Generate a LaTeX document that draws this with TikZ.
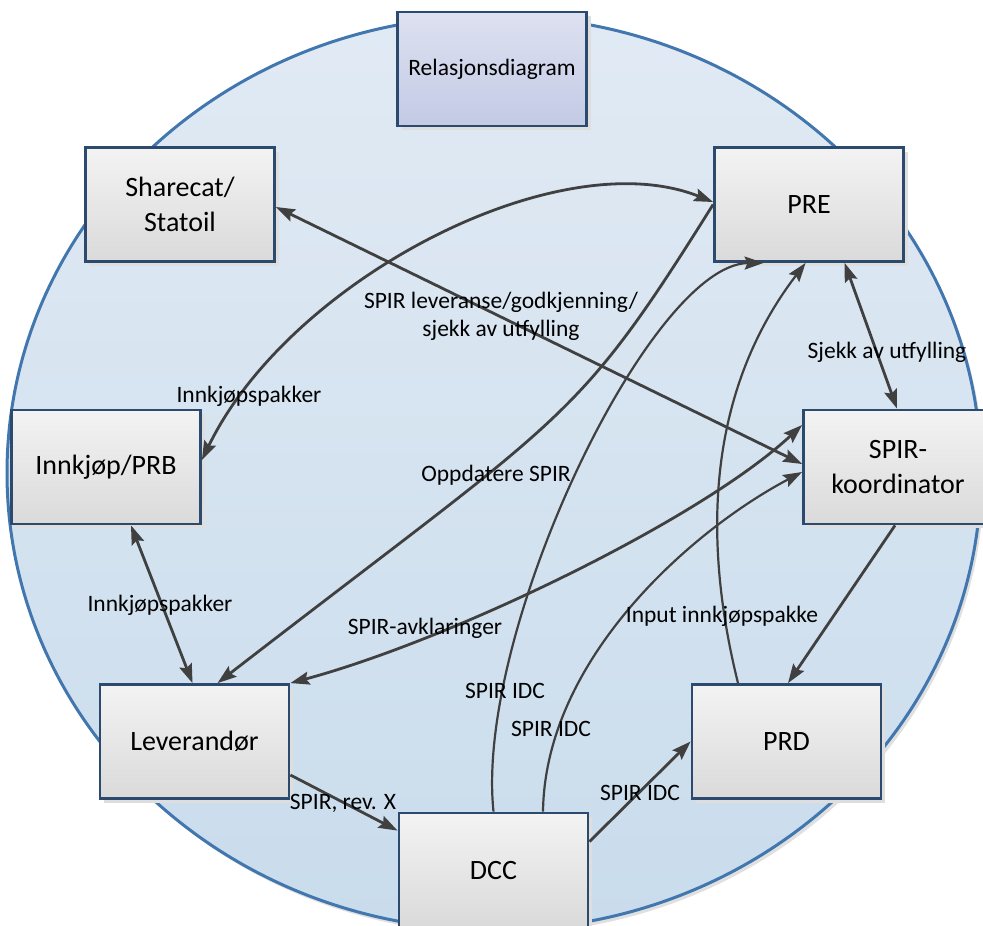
\documentclass[tikz,border=0pt]{standalone}
\usepackage{fontspec}
\setmainfont{Carlito}
\usetikzlibrary{arrows.meta,shadows}

\definecolor{edgeink}{HTML}{404040}
\definecolor{boxline}{HTML}{2C4A6E}
\definecolor{ringline}{HTML}{4177AE}
\definecolor{ringtop}{HTML}{E1EAF4}
\definecolor{ringbot}{HTML}{C9DCEC}
\definecolor{boxtop}{HTML}{F3F3F3}
\definecolor{boxbot}{HTML}{DADADA}
\definecolor{titletop}{HTML}{DDE1F0}
\definecolor{titlebot}{HTML}{C3CAE5}

\newcommand\bxfont{\fontsize{28bp}{34.5bp}\selectfont}
\newcommand\lblfont{\fontsize{23.5bp}{28bp}\selectfont}

\begin{document}
\begin{tikzpicture}[x=1bp,y=-1bp,
  box/.style={draw=boxline, line width=2.8bp, top color=boxtop, bottom color=boxbot,
    minimum width=189bp, minimum height=114bp, inner sep=0pt, align=center, font=\bxfont,
    general shadow={fill=black!13, shadow xshift=4bp, shadow yshift=-4bp}},
  titlebox/.style={box, top color=titletop, bottom color=titlebot, font=\lblfont},
  lbl/.style={font=\lblfont, inner sep=0pt, align=center},
  conn/.style={draw=edgeink, line width=2.8bp},
  thin/.style={draw=edgeink, line width=2.2bp},
  >={Stealth[length=19bp,width=13bp,inset=3bp]}]

\useasboundingbox (0,0) rectangle (983,926);

% the ring behind everything
\fill[black!12] (497,477) ellipse [x radius=487, y radius=457];
\shade[top color=ringtop, bottom color=ringbot, draw=ringline, line width=3bp]
  (494,473) ellipse [x radius=487, y radius=457];

% boxes
\node[titlebox] (rel)   at (492,69)      {Relasjonsdiagram};
\node[box]      (share) at (180,204.5)   {Sharecat/\\Statoil};
\node[box]      (pre)   at (809,204.5)   {PRE};
\node[box]      (inn)   at (106,467)     {Innkjøp/PRB};
\node[box]      (spir)  at (898,467)     {SPIR-\\koordinator};
\node[box]      (lev)   at (194.5,741.5) {Leverandør};
\node[box]      (prd)   at (786.5,741.5) {PRD};
\node[box]      (dcc)   at (493.5,870)   {DCC};

% connectors
\draw[conn,<->] ([yshift=7bp]inn.east) .. controls +(87,-180) and +(-155,-62) .. ([yshift=2.5bp]pre.west);
\draw[conn,->] (pre.west) .. controls +(-139,222) and +(353,-273) .. ([xshift=23bp]lev.north);
\draw[conn,<->] ([yshift=-2.5bp]share.east) -- ([yshift=3bp]spir.west);
\draw[conn,<->] (lev.north east) .. controls +(160,-43) and +(-102,95) .. ([yshift=42bp]spir.west);
\draw[thin,->] (dcc.north) .. controls +(-19,-181) and +(-113,1) .. ([xshift=50.5bp]pre.south west);
\draw[thin,->] ([xshift=49.5bp]dcc.north) .. controls +(2,-153) and +(-110,58) .. ([yshift=-5bp]spir.west);
\draw[thin,->] ([xshift=-48.5bp]prd.north) .. controls +(-40,-161) and +(-91,119) .. ([xshift=92.5bp]pre.south west);
\draw[conn,<->] ([xshift=131.5bp]pre.south west) -- ([xshift=-1bp]spir.north);
\draw[conn,->] ([xshift=-3bp]spir.south) -- ([xshift=1.5bp]prd.north);
\draw[conn,<->] ([xshift=25bp]inn.south) -- ([xshift=-2bp]lev.north);
\draw[conn,->] ([yshift=-33.5bp]lev.east) -- ([yshift=-19bp]dcc.north west);
\draw[conn,->] ([yshift=-30bp]dcc.north east) -- (prd.west);

% labels
\node[lbl] (tlev)  at (501,316) {SPIR leveranse/godkjenning/\\sjekk av utfylling};
\node[lbl] (tink1) at (249,396) {Innkjøpspakker};
\node[lbl] (tsjk)  at (887,352) {Sjekk av utfylling};
\node[lbl] (topp)  at (496,475) {Oppdatere SPIR};
\node[lbl] (tink2) at (160,605) {Innkjøpspakker};
\node[lbl] (tavk)  at (425,628) {SPIR-avklaringer};
\node[lbl] (tinp)  at (722,616) {Input innkjøpspakke};
\node[lbl] (tidc1) at (505,691) {SPIR IDC};
\node[lbl] (tidc2) at (551,729) {SPIR IDC};
\node[lbl] (tidc3) at (640,793) {SPIR IDC};
\node[lbl] (trev)  at (343,803) {SPIR, rev. X};
\end{tikzpicture}
\end{document}
